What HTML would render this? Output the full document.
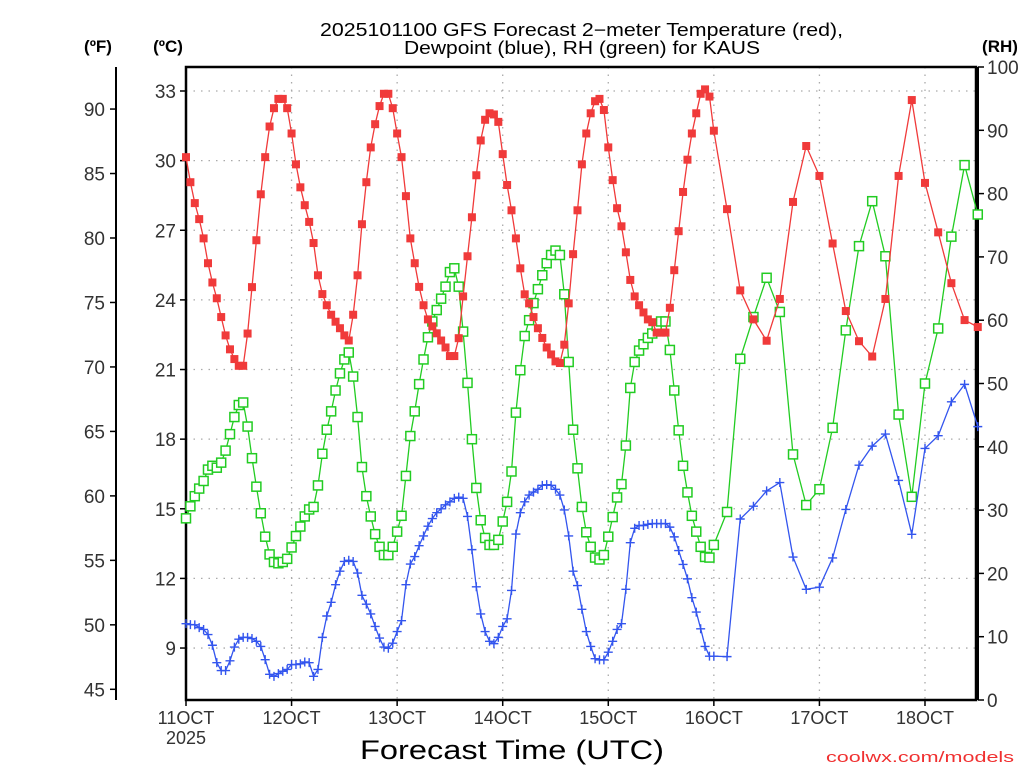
<!DOCTYPE html>
<html><head><meta charset="utf-8"><style>
html,body{margin:0;padding:0;background:#fff;}
svg{display:block;font-family:"Liberation Sans",sans-serif;}
</style></head><body>
<svg id="chart" width="1024" height="768" viewBox="0 0 1024 768" xmlns="http://www.w3.org/2000/svg">
<rect x="0" y="0" width="1024" height="768" fill="#fff"/>
<text x="320" y="36" font-size="18" textLength="523" lengthAdjust="spacingAndGlyphs" fill="#000">2025101100 GFS Forecast 2−meter Temperature (red),</text>
<text x="404" y="54" font-size="18" textLength="356" lengthAdjust="spacingAndGlyphs" fill="#000">Dewpoint (blue), RH (green) for KAUS</text>
<text x="98" y="52" font-size="17" font-weight="bold" text-anchor="middle">(ºF)</text>
<text x="168" y="52" font-size="17" font-weight="bold" text-anchor="middle">(ºC)</text>
<text x="1000" y="52" font-size="17" font-weight="bold" text-anchor="middle">(RH)</text>
<g id="grid"></g>
<g id="axes"></g>
<g id="series"></g>
<text x="360" y="759" font-size="27" textLength="304" lengthAdjust="spacingAndGlyphs" fill="#000">Forecast Time (UTC)</text>
<text x="826" y="762" font-size="15" textLength="188" lengthAdjust="spacingAndGlyphs" fill="#f03030">coolwx.com/models</text>
</svg>
<script>
const dayLabels = ["11OCT","12OCT","13OCT","14OCT","15OCT","16OCT","17OCT","18OCT"];
const celsiusTicks = [9,12,15,18,21,24,27,30,33];
const fahrenheitTicks = [45,50,55,60,65,70,75,80,85,90];
const rhTicks = [0,10,20,30,40,50,60,70,80,90,100];
const tempC = [30.15,29.07,28.17,27.48,26.65,25.58,24.75,24.07,23.26,22.47,21.87,21.45,21.16,21.16,22.55,24.55,26.57,28.55,30.15,31.47,32.26,32.66,32.66,32.26,31.17,29.84,28.85,28.08,27.36,26.45,25.06,24.25,23.77,23.36,23.06,22.78,22.47,22.25,23.36,25.06,27.26,29.07,
30.57,31.57,32.35,32.88,32.88,32.26,31.17,30.15,28.47,26.65,25.58,24.56,23.77,23.16,22.86,22.56,22.25,21.95,21.58,21.58,22.35,24.15,25.88,27.56,29.37,30.87,31.76,32.04,31.99,31.67,30.28,28.95,27.86,26.65,25.36,24.24,23.85,23.26,22.78,
22.36,21.95,21.65,21.35,21.28,22.07,23.85,25.97,27.86,29.84,31.17,32.04,32.56,32.66,32.18,30.57,29.16,27.95,27.17,26.05,24.86,24.15,23.77,23.46,23.16,23.04,22.59,22.59,22.59,23.66,25.28,26.96,28.65,30.04,31.17,32.04,32.88,33.07,32.76,31.29,
27.91,24.41,23.16,22.24,24.04,28.22,30.63,29.34,26.43,23.52,22.22,21.56,24.04,29.34,32.61,29.04,26.91,24.72,23.13,22.83];
const dewC = [10.05,10.01,10.00,9.88,9.80,9.58,9.12,8.37,8.03,8.03,8.45,9.04,9.38,9.46,9.46,9.41,9.29,9.07,8.50,7.87,7.78,7.90,8.00,8.08,8.29,8.29,8.32,8.40,8.37,7.78,8.08,9.46,10.38,10.97,11.73,12.31,12.73,12.78,12.73,12.23,11.27,10.89,
10.47,9.93,9.43,9.04,8.99,9.21,9.71,10.18,11.73,12.62,12.94,13.41,13.83,14.25,14.58,14.83,15.00,15.17,15.30,15.45,15.50,15.45,14.67,13.24,11.64,10.47,9.71,9.29,9.19,9.46,9.93,10.26,11.48,13.91,14.83,15.30,15.59,15.72,15.84,
16.01,16.04,16.01,15.84,15.59,14.95,13.83,12.31,11.69,10.67,9.71,9.07,8.54,8.49,8.49,8.82,9.29,9.80,10.05,11.53,13.54,14.16,14.28,14.28,14.33,14.36,14.36,14.36,14.36,14.21,13.79,13.20,12.60,11.98,11.17,10.55,9.83,9.07,8.65,8.65,
8.63,14.56,15.11,15.77,16.13,12.92,11.53,11.62,12.88,14.97,16.88,17.70,18.22,16.22,13.90,17.60,18.15,19.61,20.36,18.54];
const rhPct = [28.7,30.6,32.2,33.4,34.6,36.4,37.0,36.7,37.5,39.4,42.0,44.7,46.6,47.0,43.2,38.2,33.7,29.5,25.8,23.0,21.8,21.6,21.8,22.3,24.1,25.9,27.4,29.0,30.1,30.5,33.9,38.9,42.7,45.6,48.9,51.6,53.8,54.9,51.1,44.7,36.8,32.2,
29.0,26.2,24.2,22.9,22.9,24.2,26.6,29.1,35.4,41.7,45.6,49.9,53.8,57.3,59.8,61.6,63.4,65.3,67.6,68.2,65.3,58.2,50.1,41.2,33.5,28.4,25.6,24.5,24.5,25.3,28.2,31.3,36.1,45.4,52.1,57.5,60.0,62.7,64.9,
67.1,69.0,70.3,71.0,70.3,64.1,53.4,42.7,36.6,30.5,26.5,24.2,22.5,22.2,22.9,25.8,28.9,32.0,34.1,40.2,49.3,53.4,55.2,56.2,57.2,57.9,59.1,59.8,59.8,55.3,48.9,42.6,37.0,32.8,29.1,26.6,24.2,22.6,22.5,24.5,
29.7,53.9,60.5,66.7,61.3,38.8,30.8,33.3,43.0,58.4,71.7,78.8,70.1,45.1,32.1,50.0,58.7,73.2,84.5,76.7];
const forecastHours = [];
for (let h = 0; h <= 120; h++) forecastHours.push(h);
for (let h = 123; h <= 180; h += 3) forecastHours.push(h);

const NS = "http://www.w3.org/2000/svg";
const L = 186, R = 976, T = 67, B = 700;
const xOf = h => L + h * (105.57 / 24);
const yC = c => 91 + (33 - c) * 23.21;
const yF = f => yC((f - 32) * 5 / 9);
const yRH = r => B - r * 6.33;
function mk(tag, attrs, parent) {
  const e = document.createElementNS(NS, tag);
  for (const k in attrs) e.setAttribute(k, attrs[k]);
  parent.appendChild(e);
  return e;
}
const grid = document.getElementById('grid');
const axes = document.getElementById('axes');
const series = document.getElementById('series');

celsiusTicks.forEach(c => {
  const g = mk('line', {x1: L, x2: R, y1: yC(c), y2: yC(c), stroke: '#aaa', 'stroke-width': 1.3, 'stroke-dasharray': '1.5,6'}, grid);
  
  
});
dayLabels.forEach((d, i) => {
  if (i === 0) return;
  const x = xOf(i * 24);
  const g = mk('line', {x1: x, x2: x, y1: T, y2: B, stroke: '#aaa', 'stroke-width': 1.3, 'stroke-dasharray': '1.5,6'}, grid);
  
  
});

const frame = mk('rect', {x: L, y: T, width: R - L, height: B - T, fill: 'none', stroke: '#000', 'stroke-width': 2.5}, axes);


const rAxis = mk('line', {x1: 978, x2: 978, y1: T, y2: B, stroke: '#000', 'stroke-width': 2}, axes);


const fAxis = mk('line', {x1: 116, x2: 116, y1: T, y2: B, stroke: '#000', 'stroke-width': 2}, axes);



celsiusTicks.forEach(c => {
  const y = yC(c);
  mk('line', {x1: L - 6, x2: L, y1: y, y2: y, stroke: '#000', 'stroke-width': 1.5}, axes);
  const t = mk('text', {x: 176, y: y + 7, 'font-size': 19, 'text-anchor': 'end', fill: '#333'}, axes);
  t.textContent = c;
  
  
});
fahrenheitTicks.forEach(f => {
  const y = yF(f);
  mk('line', {x1: 110, x2: 116, y1: y, y2: y, stroke: '#000', 'stroke-width': 1.5}, axes);
  const t = mk('text', {x: 105, y: y + 7, 'font-size': 19, 'text-anchor': 'end', fill: '#333'}, axes);
  t.textContent = f;
  
  
});
rhTicks.forEach(r => {
  const y = yRH(r);
  mk('line', {x1: 978, x2: 984, y1: y, y2: y, stroke: '#000', 'stroke-width': 1.5}, axes);
  const t = mk('text', {x: 987, y: y + 7, 'font-size': 19, 'text-anchor': 'start', fill: '#333'}, axes);
  t.textContent = r;
  
  
});
dayLabels.forEach((d, i) => {
  const x = xOf(i * 24);
  mk('line', {x1: x, x2: x, y1: B, y2: B + 6, stroke: '#000', 'stroke-width': 1.5}, axes);
  const t = mk('text', {x: x, y: 724, 'font-size': 18, 'text-anchor': 'middle', fill: '#333'}, axes);
  t.textContent = d;
  
  
});
const yr = mk('text', {x: xOf(0), y: 744, 'font-size': 18, 'text-anchor': 'middle', fill: '#333'}, axes);
yr.textContent = '2025';



function drawSeries(vals, yFn, color, kind, name) {
  const n = Math.min(vals.length, forecastHours.length);
  const pts = [];
  for (let i = 0; i < n; i++) pts.push([xOf(forecastHours[i]), yFn(vals[i])]);
  const line = mk('polyline', {points: pts.map(p => p[0].toFixed(1) + ',' + p[1].toFixed(1)).join(' '), fill: 'none', stroke: color, 'stroke-width': 1.3}, series);
  
  
  pts.forEach(p => {
    let m;
    if (kind === 'fill') {
      m = mk('rect', {x: p[0] - 4, y: p[1] - 4, width: 8, height: 8, fill: color}, series);
    } else if (kind === 'open') {
      m = mk('rect', {x: p[0] - 4.5, y: p[1] - 4.5, width: 9, height: 9, fill: '#fff', stroke: color, 'stroke-width': 1.5}, series);
    } else {
      m = mk('path', {d: `M${p[0]-4.5},${p[1]}h9M${p[0]},${p[1]-4.5}v9`, stroke: color, 'stroke-width': 1.4, fill: 'none'}, series);
    }
    
    
  });
}
drawSeries(rhPct, yRH, '#22cc22', 'open', 'rh');
drawSeries(dewC, yC, '#3355ee', 'plus', 'dewpoint');
drawSeries(tempC, yC, '#f03a3a', 'fill', 'temperature');
</script>
</body></html>
